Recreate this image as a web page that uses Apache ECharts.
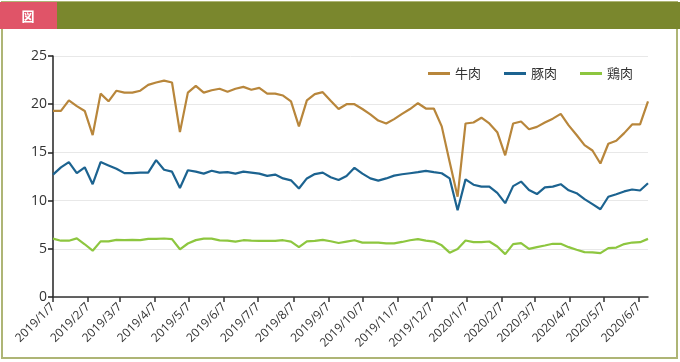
<!DOCTYPE html>
<html>
<head>
<meta charset="utf-8">
<script src="https://cdn.jsdelivr.net/npm/echarts@6/dist/echarts.min.js"></script>
<style>
html,body{margin:0;padding:0;background:#fff;}
#main{width:680px;height:362px;}
</style>
</head>
<body>
<div id="main"></div>
<script>
// Weekly dates (categories)
const dates = [
 "2019/1/7","2019/1/14","2019/1/21","2019/1/28","2019/2/4","2019/2/11","2019/2/18","2019/2/25",
 "2019/3/4","2019/3/11","2019/3/18","2019/3/25","2019/4/1","2019/4/8","2019/4/15","2019/4/22",
 "2019/4/29","2019/5/6","2019/5/13","2019/5/20","2019/5/27","2019/6/3","2019/6/10","2019/6/17",
 "2019/6/24","2019/7/1","2019/7/8","2019/7/15","2019/7/22","2019/7/29","2019/8/5","2019/8/12",
 "2019/8/19","2019/8/26","2019/9/2","2019/9/9","2019/9/16","2019/9/23","2019/9/30","2019/10/7",
 "2019/10/14","2019/10/21","2019/10/28","2019/11/4","2019/11/11","2019/11/18","2019/11/25","2019/12/2",
 "2019/12/9","2019/12/16","2019/12/23","2019/12/30","2020/1/6","2020/1/13","2020/1/20","2020/1/27",
 "2020/2/3","2020/2/10","2020/2/17","2020/2/24","2020/3/2","2020/3/9","2020/3/16","2020/3/23",
 "2020/3/30","2020/4/6","2020/4/13","2020/4/20","2020/4/27","2020/5/4","2020/5/11","2020/5/18",
 "2020/5/25","2020/6/1","2020/6/8","2020/6/15"
];
const beef = [
 19.3,19.3,20.4,19.8,19.3,16.8,21.1,20.3,21.4,21.2,21.2,21.4,22.0,22.25,22.45,22.25,
 17.1,21.2,21.9,21.2,21.45,21.6,21.3,21.6,21.8,21.5,21.7,21.1,21.1,20.9,20.3,17.7,
 20.4,21.05,21.25,20.35,19.5,20.0,20.0,19.5,18.95,18.3,18.0,18.45,19.0,19.5,20.1,19.55,
 19.55,17.7,14.0,10.4,18.0,18.1,18.6,18.0,17.1,14.7,18.0,18.2,17.4,17.65,18.1,18.5,
 19.0,17.8,16.8,15.75,15.2,13.85,15.9,16.2,17.0,17.9,17.9,20.3
];
const pork = [
 12.7,13.45,14.0,12.85,13.45,11.7,14.0,13.65,13.3,12.85,12.85,12.9,12.9,14.2,13.2,13.0,
 11.3,13.15,13.0,12.8,13.1,12.9,12.95,12.8,13.0,12.9,12.8,12.56,12.7,12.3,12.1,11.25,
 12.3,12.75,12.9,12.42,12.14,12.56,13.4,12.8,12.3,12.07,12.3,12.59,12.73,12.84,12.95,13.08,
 12.95,12.84,12.3,9.0,12.2,11.65,11.45,11.45,10.8,9.73,11.5,11.97,11.1,10.68,11.38,11.45,
 11.7,11.07,10.77,10.15,9.63,9.1,10.4,10.66,10.95,11.15,11.05,11.8
];
const chicken = [
 6.05,5.84,5.84,6.08,5.47,4.8,5.77,5.77,5.93,5.9,5.93,5.9,6.03,6.03,6.07,6.0,
 4.95,5.55,5.9,6.05,6.05,5.87,5.85,5.75,5.89,5.85,5.82,5.82,5.82,5.89,5.75,5.18,
 5.78,5.82,5.93,5.78,5.6,5.75,5.89,5.64,5.64,5.64,5.57,5.57,5.71,5.89,6.0,5.85,
 5.75,5.36,4.6,4.97,5.86,5.7,5.7,5.76,5.24,4.45,5.49,5.59,5.0,5.17,5.34,5.52,
 5.52,5.17,4.9,4.66,4.62,4.55,5.07,5.13,5.49,5.65,5.69,6.03
];
const seriesNames = ["牛肉","豚肉","鶏肉"];
const xTickLabels = [
 "2019/1/7","2019/2/7","2019/3/7","2019/4/7","2019/5/7","2019/6/7","2019/7/7","2019/8/7","2019/9/7",
 "2019/10/7","2019/11/7","2019/12/7","2020/1/7","2020/2/7","2020/3/7","2020/4/7","2020/5/7","2020/6/7"
];
const yTicks = {min:0, max:25, interval:5};

const DAY = 86400000;
function ts(s){ const p = s.split("/").map(Number); return Math.round(Date.UTC(p[0], p[1]-1, p[2]) / DAY); }
function fmt(v){ const d = new Date(Math.round(v) * DAY); return d.getUTCFullYear()+"/"+(d.getUTCMonth()+1)+"/"+d.getUTCDate(); }
const tickVals = xTickLabels.map(ts);
const pairs = arr => arr.map((v,i)=>[ts(dates[i]), v]);

const colors = ["#B8863B","#1C6390","#8DC63F"];
const chart = echarts.init(document.getElementById('main'), null, {renderer:'canvas'});
chart.setOption({
  animation:false,
  backgroundColor:'#fff',
  color: colors,
  textStyle:{fontFamily:'"Open Sans", sans-serif'},
  graphic:[
    {type:'rect', shape:{x:2,y:2,width:675,height:356}, style:{fill:'#fff', stroke:'#AEB575', lineWidth:2}, z:-10},
    {type:'rect', shape:{x:0,y:2,width:680,height:27}, style:{fill:'#7A872D'}, z:-5},
    {type:'rect', shape:{x:0,y:2,width:57,height:27}, style:{fill:'#E05468'}, z:-4},
    {type:'text', x:28, y:16, style:{text:'図', fill:'#fff', fontSize:13, fontWeight:'bold', fontFamily:'"Noto Sans CJK JP"', align:'center', verticalAlign:'middle'}, z:-3}
  ],
  grid:{left:53, right:32, top:56, bottom:65, containLabel:false},
  legend:{
    data:seriesNames, right:42, top:62, itemWidth:22, itemHeight:3, itemGap:23, icon:'rect',
    textStyle:{fontSize:13, color:'#333', fontFamily:'"Noto Sans CJK JP", sans-serif'}
  },
  xAxis:{
    type:'value', min:ts(dates[0]), max:ts(dates[dates.length-1]),
    axisLine:{show:true, lineStyle:{color:'#333', width:1.5}},
    axisTick:{show:true, length:5, customValues:tickVals, lineStyle:{color:'#333', width:1.5}},
    axisLabel:{customValues:tickVals, rotate:45, fontSize:12, color:'#333', margin:8, formatter:(v)=>fmt(v)},
    splitLine:{show:false}
  },
  yAxis:{
    type:'value', min:yTicks.min, max:yTicks.max, interval:yTicks.interval,
    axisLine:{show:true, lineStyle:{color:'#222', width:1.5}},
    axisTick:{show:true, length:5, lineStyle:{color:'#222', width:1.5}},
    axisLabel:{fontSize:14, color:'#333', margin:6},
    splitLine:{show:true, lineStyle:{color:'#e8e8e8', width:1}}
  },
  series:[
    {name:seriesNames[0], type:'line', data:pairs(beef), symbol:'none', lineStyle:{width:2.2}},
    {name:seriesNames[1], type:'line', data:pairs(pork), symbol:'none', lineStyle:{width:2.2}},
    {name:seriesNames[2], type:'line', data:pairs(chicken), symbol:'none', lineStyle:{width:2.2}}
  ]
});
</script>
</body>
</html>
